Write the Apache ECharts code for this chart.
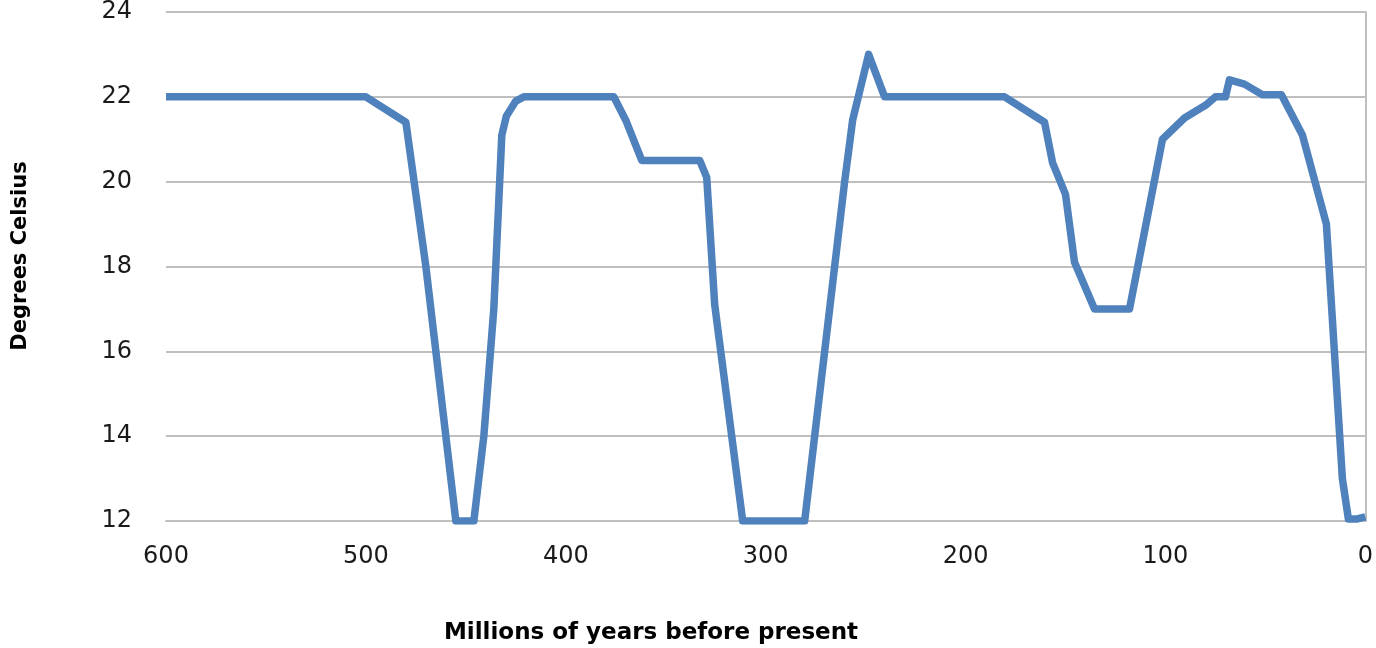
<!DOCTYPE html>
<html>
<head>
<meta charset="utf-8">
<script src="https://cdn.jsdelivr.net/npm/echarts@6/dist/echarts.min.js"></script>
<style>
html,body{margin:0;padding:0;background:#fff;}
#chart{width:1376px;height:648px;}
</style>
</head>
<body>
<div id="chart"></div>
<script>
// Millions of years before present
const years = [600, 500, 480, 470, 455, 446, 441, 436, 432, 429.7, 425, 421, 376, 370, 362, 333, 329.5, 325.5, 311.5, 280.5, 260.5, 256.5, 248.5, 240.5, 180.5, 160.5, 156.5, 150, 145.5, 135.5, 118, 101.5, 90.5, 80, 75, 70, 68, 60.5, 51.5, 42, 31.5, 19.5, 11.5, 8.5, 4, 0];
// Degrees Celsius
const temps = [22, 22, 21.4, 18, 12, 12, 14, 17, 21.1, 21.55, 21.9, 22, 22, 21.45, 20.5, 20.5, 20.1, 17.1, 12, 12, 20, 21.45, 23, 22, 22, 21.4, 20.45, 19.7, 18.1, 17, 17, 21, 21.5, 21.8, 22, 22, 22.4, 22.3, 22.05, 22.05, 21.1, 19, 13, 12.05, 12.05, 12.1];
const xTicks = [0, 100, 200, 300, 400, 500, 600];
const yTicks = [12, 14, 16, 18, 20, 22, 24];
const xTitle = 'Millions of years before present';
const yTitle = 'Degrees Celsius';

const chart = echarts.init(document.getElementById('chart'), null, {renderer: 'canvas'});
const gridColor = '#bfbfbf';
chart.setOption({
  animation: false,
  grid: {left: 166, right: 10, top: 12, bottom: 127},
  graphic: [{
    type: 'text', x: 651, y: 633,
    style: {text: xTitle, font: 'bold 23px "DejaVu Sans"', fill: '#000', textAlign: 'center', textVerticalAlign: 'middle'}
  }, {
    type: 'text', x: 21, y: 256, rotation: Math.PI / 2,
    style: {text: yTitle, font: 'bold 21px "DejaVu Sans"', fill: '#000', textAlign: 'center', textVerticalAlign: 'middle'}
  }],
  xAxis: {
    type: 'value', inverse: true,
    min: xTicks[0], max: xTicks[xTicks.length - 1], interval: 100,
    axisLine: {show: true, lineStyle: {color: gridColor, width: 2}},
    axisTick: {show: false},
    splitLine: {show: false},
    axisLabel: {fontSize: 24, color: '#1a1a1a', fontFamily: 'DejaVu Sans', margin: 24}
  },
  yAxis: [{
    type: 'value',
    min: yTicks[0], max: yTicks[yTicks.length - 1], interval: 2,
    position: 'left',
    axisLine: {show: false},
    axisTick: {show: false},
    splitLine: {show: true, lineStyle: {color: gridColor, width: 2}},
    axisLabel: {fontSize: 24, color: '#1a1a1a', fontFamily: 'DejaVu Sans', margin: 34}
  }, {
    type: 'value',
    min: yTicks[0], max: yTicks[yTicks.length - 1], interval: 2,
    position: 'right',
    axisLine: {show: true, lineStyle: {color: gridColor, width: 2}},
    axisTick: {show: false},
    axisLabel: {show: false},
    splitLine: {show: false}
  }],
  series: [{
    type: 'line',
    data: years.map((y, i) => [y, temps[i]]),
    showSymbol: false,
    symbol: 'none',
    lineStyle: {color: '#4f81bd', width: 7.5, join: 'round', cap: 'butt'},
    z: 5
  }]
});
</script>
</body>
</html>
